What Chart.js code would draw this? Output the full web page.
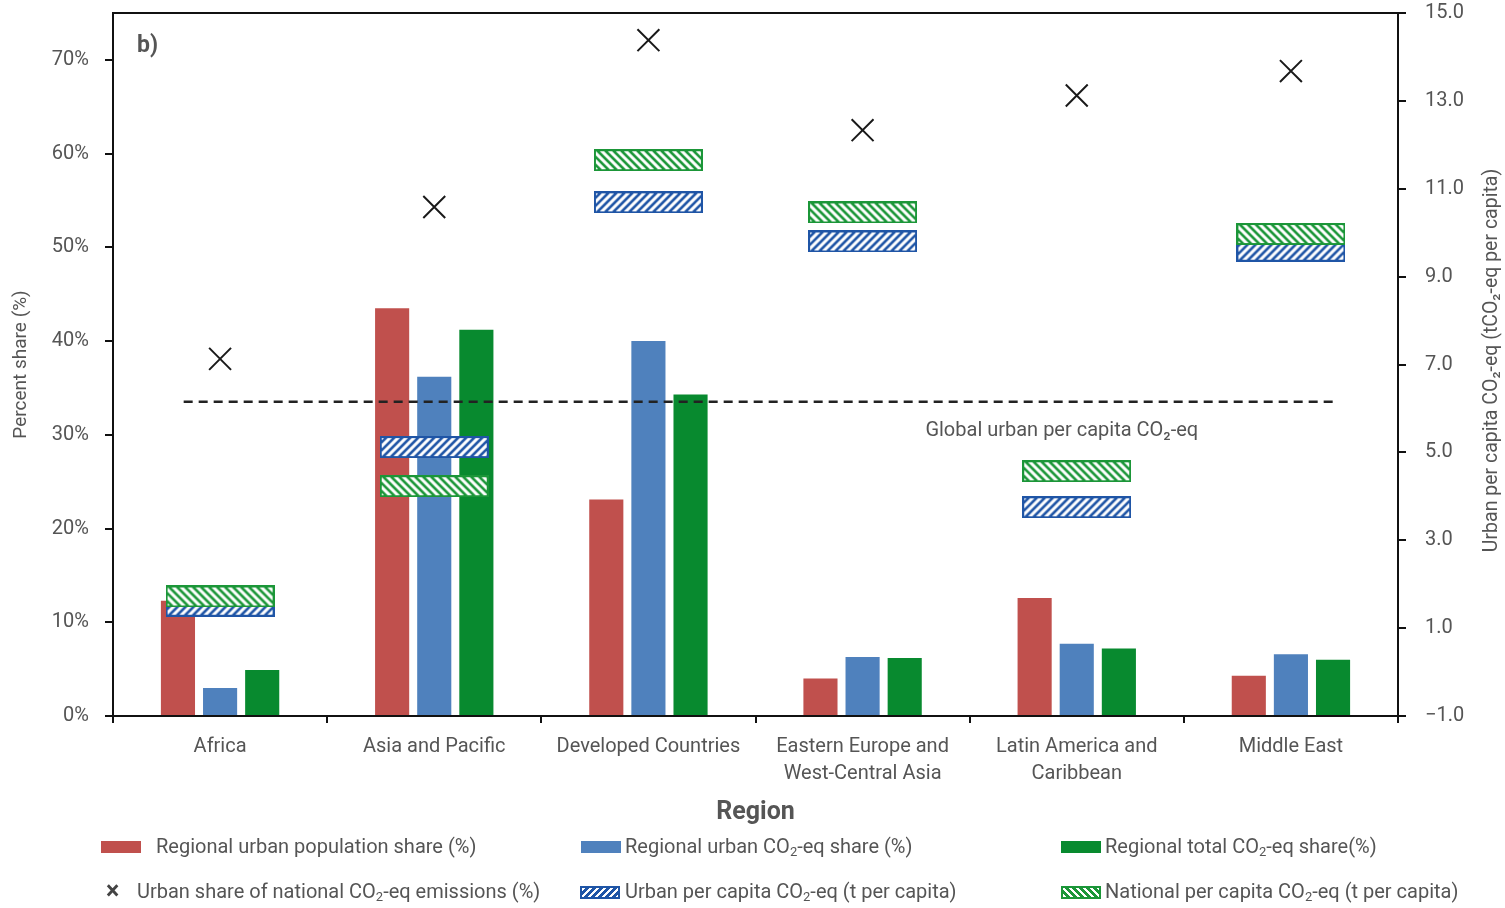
<!DOCTYPE html>
<html>
<head>
<meta charset="utf-8">
<script src="https://cdn.jsdelivr.net/npm/chart.js@4"></script>
<style>
    body { margin: 0; background: #fff; }
    #wrap { position: relative; width: 1505px; height: 908px; font-family: Roboto, "Open Sans", sans-serif; color: #555; }
    #wrap canvas { position: absolute; left: 0; top: 0; }
    #legend .item { position: absolute; font-size: 20px; line-height: 24px; white-space: nowrap; }
    #legend .sw { position: absolute; box-sizing: border-box; }
    #legend sub { font-size: 13px; vertical-align: -3px; line-height: 0; }
</style>
</head>
<body>
<div id="wrap">
    <canvas id="bars" width="1505" height="908"></canvas>
    <canvas id="chart" width="1505" height="908"></canvas>
    <div id="legend"></div>
</div>
<script>
// values
const regions = [
    "Africa",
    "Asia and Pacific",
    "Developed Countries",
    ["Eastern Europe and", "West-Central Asia"],
    ["Latin America and", "Caribbean"],
    "Middle East"
];

const urbanPopShare = [12.3, 43.5, 23.1, 4.0, 12.6, 4.3];
const urbanCo2Share = [3.0, 36.2, 40.0, 6.3, 7.7, 6.6];
const totalCo2Share = [4.9, 41.2, 34.3, 6.2, 7.2, 6.0];
const urbanShareOfNational = [38.1, 54.3, 72.1, 62.5, 66.2, 68.8];

const urbanPerCapita = [1.51, 5.12, 10.69, 9.80, 3.75, 9.59];
const nationalPerCapita = [1.72, 4.23, 11.65, 10.46, 4.57, 9.97];

const globalUrbanPerCapita = 6.15;
const globalLineSpan = [-0.17, 5.22];

const leftTicks = [0, 10, 20, 30, 40, 50, 60, 70];
const rightTicks = [-1, 1, 3, 5, 7, 9, 11, 13, 15];

const RED = "#c0504d";
const BLUE = "#4f81bd";
const GREEN = "#088a2f";
const HATCH_BLUE = "#1f55a6";
const HATCH_GREEN = "#1b9638";
const TEXT = "#555";

// plot box margins, shared by both canvases
const PLOT = { left: 113, right: 107, top: 13, bottom: 192 };
const LEFT_RANGE = [0, 75];
const RIGHT_RANGE = [-1, 15];

// hatched marker drawn once, then used as the point style
function hatchBox(color, dir) {

    const w = 109;
    const h = 22;
    const c = document.createElement("canvas");
    c.width = w;
    c.height = h;
    const g = c.getContext("2d");
    g.fillStyle = "#fff";
    g.fillRect(0, 0, w, h);
    g.strokeStyle = color;
    g.lineWidth = 2.6;
    g.beginPath();
    for (let x = -h; x < w + h; x += 8) {
        if (dir === "/") {
            g.moveTo(x, h); g.lineTo(x + h, 0);
        } else {
            g.moveTo(x, 0); g.lineTo(x + h, h);
        }
    }
    g.stroke();
    g.lineWidth = 2;
    g.strokeRect(1, 1, w - 2, h - 2);
    return c;
}

const font = (size, weight) => ({ family: "Roboto, 'Open Sans', sans-serif", size, weight: weight || "normal" });

const axisLine = { display: true, color: "#111", width: 2 };

// keep the plot box where the original has it
const noPad = (s) => {
    s.paddingTop = 0;
    s.paddingBottom = 0;
    s.paddingLeft = 0;
    s.paddingRight = 0;
};

/*
| Bars live on their own canvas underneath, so the grouping
| only ever sees the three bar series.
*/
new Chart(document.getElementById("bars"), {

    type: "bar",

    data: {
        labels: regions,
        datasets: [
            { label: "Regional urban population share (%)", data: urbanPopShare, backgroundColor: RED },
            { label: "Regional urban CO2-eq share (%)", data: urbanCo2Share, backgroundColor: BLUE },
            { label: "Regional total CO2-eq share(%)", data: totalCo2Share, backgroundColor: GREEN }
        ]
    },

    options: {
        responsive: false,
        animation: false,
        categoryPercentage: 0.59,
        barPercentage: 0.81,
        layout: {
            autoPadding: false,
            padding: PLOT
        },
        plugins: {
            legend: { display: false },
            tooltip: { enabled: false }
        },
        scales: {
            x: { display: false, offset: true },
            y: { display: false, min: LEFT_RANGE[0], max: LEFT_RANGE[1] }
        }
    }

});

const extras = {
    id: "extras",
    afterDraw(chart) {
        const { ctx, chartArea, scales } = chart;
        ctx.save();
        ctx.fillStyle = TEXT;

        // panel letter
        ctx.font = "bold 23px Roboto, sans-serif";
        ctx.textAlign = "left";
        ctx.textBaseline = "middle";
        ctx.fillText("b)", chartArea.left + 24, chartArea.top + 33);

        // label under the dashed line
        ctx.font = "20px Roboto, sans-serif";
        ctx.textAlign = "center";
        ctx.fillText(
            "Global urban per capita CO\u2082-eq",
            scales.xl.getPixelForValue(3.93),
            scales.y2.getPixelForValue(globalUrbanPerCapita) + 29
        );

        // right axis title, reading upwards
        ctx.font = "19.5px Roboto, sans-serif";
        ctx.translate(1492, (chartArea.top + chartArea.bottom) / 2 - 4);
        ctx.rotate(-Math.PI / 2);
        ctx.fillText("Urban per capita CO\u2082-eq (tCO\u2082-eq per capita)", 0, 0);
        ctx.restore();
    }
};

new Chart(document.getElementById("chart"), {

    type: "line",

    data: {

        labels: regions,

        datasets: [

            {
                label: "Urban share of national CO2-eq emissions (%)",
                data: urbanShareOfNational,
                yAxisID: "y",
                showLine: false,
                pointStyle: "crossRot",
                pointRadius: 15.5,
                pointBorderWidth: 2,
                pointBorderColor: "#1a1a1a"
            },

            {
                label: "Global urban per capita CO2-eq",
                data: globalLineSpan.map((x) => ({ x, y: globalUrbanPerCapita })),
                xAxisID: "xl",
                yAxisID: "y2",
                borderColor: "#222",
                borderWidth: 2.5,
                borderDash: [9, 6],
                pointRadius: 0
            },

            {
                label: "National per capita CO2-eq (t per capita)",
                data: nationalPerCapita,
                yAxisID: "y2",
                showLine: false,
                pointStyle: hatchBox(HATCH_GREEN, "\\"),
                pointRadius: 4
            },

            {
                label: "Urban per capita CO2-eq (t per capita)",
                data: urbanPerCapita,
                yAxisID: "y2",
                showLine: false,
                pointStyle: hatchBox(HATCH_BLUE, "/"),
                pointRadius: 4
            }

        ]

    },

    options: {

        responsive: false,

        animation: false,

        layout: {
            autoPadding: false,
            padding: { top: PLOT.top, left: 0, right: 0, bottom: 0 }
        },

        plugins: {
            legend: { display: false },
            tooltip: { enabled: false }
        },

        scales: {

            x: {
                type: "category",
                position: "bottom",
                offset: true,
                grid: {
                    offset: true,
                    drawOnChartArea: false,
                    color: "#111",
                    lineWidth: 2,
                    tickLength: 7
                },
                border: axisLine,
                ticks: {
                    color: TEXT,
                    font: { ...font(20), lineHeight: 1.35 },
                    padding: 10,
                    maxRotation: 0,
                    autoSkip: false
                },
                title: {
                    display: true,
                    text: "Region",
                    color: TEXT,
                    font: font(25, "bold"),
                    padding: { top: 0, bottom: 80 }
                },
                afterFit: (s) => { noPad(s); s.height = PLOT.bottom; }
            },

            x2: {
                type: "category",
                position: "top",
                offset: true,
                grid: { display: false },
                border: axisLine,
                ticks: { display: false },
                afterFit: (s) => { noPad(s); s.height = 0; }
            },

            xl: {
                type: "linear",
                position: "top",
                offset: false,
                min: -0.5,
                max: 5.5,
                grid: { display: false },
                border: { display: false },
                ticks: { display: false },
                afterFit: (s) => { noPad(s); s.height = 0; }
            },

            y: {
                type: "linear",
                position: "left",
                min: LEFT_RANGE[0],
                max: LEFT_RANGE[1],
                grid: {
                    drawOnChartArea: false,
                    color: "#111",
                    lineWidth: 2,
                    tickLength: 8
                },
                border: axisLine,
                ticks: {
                    color: TEXT,
                    font: font(20),
                    padding: 16,
                    callback: (v) => v + "%"
                },
                afterBuildTicks: (s) => { s.ticks = leftTicks.map((value) => ({ value })); },
                title: {
                    display: true,
                    text: "Percent share (%)",
                    color: TEXT,
                    font: font(19),
                    padding: { top: 10, bottom: 0 }
                },
                afterFit: (s) => { noPad(s); s.width = PLOT.left; }
            },

            y2: {
                type: "linear",
                position: "right",
                min: RIGHT_RANGE[0],
                max: RIGHT_RANGE[1],
                grid: {
                    drawOnChartArea: false,
                    color: "#111",
                    lineWidth: 2,
                    tickLength: 8
                },
                border: axisLine,
                ticks: {
                    color: TEXT,
                    font: font(20),
                    padding: 19,
                    callback: (v) => v.toFixed(1).replace("-", "\u2212")
                },
                afterBuildTicks: (s) => { s.ticks = rightTicks.map((value) => ({ value })); },
                afterFit: (s) => { noPad(s); s.width = PLOT.right; }
            }

        }

    },

    plugins: [extras]

});

// legend, laid out in three columns like the original
const legendItems = [
    { swatch: `background:${RED}`, sx: 101, tx: 156, row: 0, html: "Regional urban population share (%)" },
    { swatch: `background:${BLUE}`, sx: 581, tx: 625, row: 0, html: "Regional urban CO<sub>2</sub>-eq share (%)" },
    { swatch: `background:${GREEN}`, sx: 1061, tx: 1105, row: 0, html: "Regional total CO<sub>2</sub>-eq share(%)" },
    { cross: true, sx: 106, tx: 137, row: 1, html: "Urban share of national CO<sub>2</sub>-eq emissions (%)" },
    { swatch: `border:2px solid ${HATCH_BLUE};background:repeating-linear-gradient(135deg,#fff 0 2.5px,${HATCH_BLUE} 2.5px 5px)`, sx: 580, tx: 625, row: 1, html: "Urban per capita CO<sub>2</sub>-eq (t per capita)" },
    { swatch: `border:2px solid ${HATCH_GREEN};background:repeating-linear-gradient(45deg,#fff 0 2.5px,${HATCH_GREEN} 2.5px 5px)`, sx: 1061, tx: 1105, row: 1, html: "National per capita CO<sub>2</sub>-eq (t per capita)" }
];

const rowY = [847, 892];
const legend = document.getElementById("legend");

legendItems.forEach((it) => {
    const cy = rowY[it.row];
    if (it.cross) {
        const c = document.createElement("div");
        c.className = "item";
        c.style.cssText = `left:${it.sx}px;top:${cy - 15}px;font-size:25px;line-height:28px;font-weight:bold;color:#444`;
        c.textContent = "\u00d7";
        legend.appendChild(c);
    } else {
        const sw = document.createElement("div");
        sw.className = "sw";
        const h = it.row ? 13 : 12;
        sw.style.cssText = `left:${it.sx}px;top:${cy - h / 2}px;width:40px;height:${h}px;${it.swatch}`;
        legend.appendChild(sw);
    }
    const t = document.createElement("div");
    t.className = "item";
    t.style.left = it.tx + "px";
    t.style.top = (cy - 13) + "px";
    t.innerHTML = it.html;
    legend.appendChild(t);
});
</script>
</body>
</html>
